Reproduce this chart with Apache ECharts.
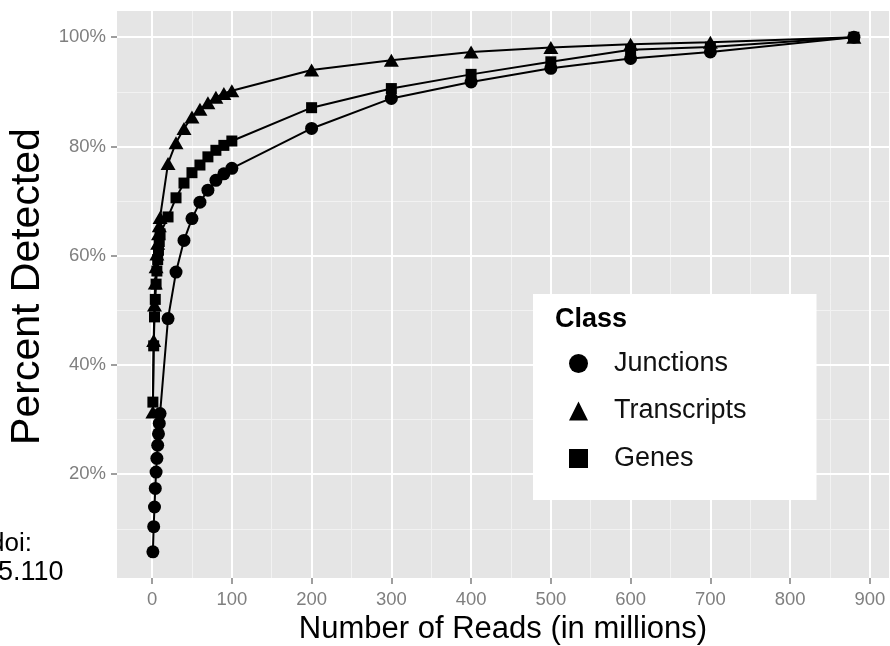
<!DOCTYPE html>
<html><head><meta charset="utf-8">
<script src="https://cdn.jsdelivr.net/npm/echarts@6/dist/echarts.min.js"></script>
<style>html,body{margin:0;padding:0;background:#fff}#c{width:890px;height:646px}</style>
</head><body><div id="c"></div>
<script>
const reads = [1,2,3,4,5,6,7,8,9,10,20,30,40,50,60,70,80,90,100,200,300,400,500,600,700,880];
const junctions = [5.8,10.4,14.0,17.4,20.4,22.9,25.3,27.4,29.3,31.1,48.5,57.0,62.8,66.8,69.8,72.0,73.8,75.0,76.0,83.3,88.8,91.8,94.3,96.1,97.3,100];
const transcripts = [31.4,44.5,51.0,55.0,58.0,60.3,62.3,64.0,65.5,67.0,76.9,80.7,83.3,85.4,86.8,88.0,89.0,89.7,90.2,94.0,95.8,97.3,98.1,98.7,99.1,100];
const genes = [33.2,43.5,48.8,52.0,54.8,57.2,59.3,61.0,62.6,64.0,67.1,70.6,73.3,75.2,76.6,78.1,79.3,80.2,81.0,87.1,90.6,93.2,95.5,97.7,98.2,100];
const xTicks = [0,100,200,300,400,500,600,700,800,900];
const xMinor = [50,150,250,350,450,550,650,750,850];
const yTicks = [20,40,60,80,100];
const yMinor = [10,30,50,70,90];
const classNames = ['Junctions','Transcripts','Genes'];
const classSymbols = ['circle','triangle','rect'];

const FONT = 'Liberation Sans, Arial, Helvetica, sans-serif';
const chart = echarts.init(document.getElementById('c'), null, {renderer:'canvas'});

function pairs(vals){ return reads.map((x,i)=>[x, vals[i]]); }
const seriesVals = [junctions, transcripts, genes];
const symbolSizes = [13, [15,13], 11];

const option = {
  animation:false,
  textStyle:{fontFamily:FONT},
  grid:{show:true, backgroundColor:'#e5e5e5', borderWidth:0, left:117, right:1, top:11, bottom:68, containLabel:false, outerBoundsMode:'none'},
  title:{text:'Class', left:555, top:306, padding:0, textStyle:{fontFamily:FONT, fontSize:27, fontWeight:'bold', color:'#000'}},
  legend:{
    orient:'vertical', left:533, top:294, backgroundColor:'#ffffff',
    padding:[56,70,28,36], itemWidth:19, itemHeight:19, itemGap:20.5,
    selectedMode:false,
    textStyle:{fontFamily:FONT, fontSize:27, color:'#111', padding:[0,0,0,21]},
    data: classNames.map((n,i)=>({name:n, icon:classSymbols[i]}))
  },
  xAxis:[
    {type:'value', min:-44, max:924, z:2,
     name:'Number of Reads (in millions)', nameLocation:'middle', nameGap:33,
     nameTextStyle:{fontFamily:FONT, fontSize:31, color:'#000'},
     axisLine:{show:false, onZero:false},
     axisTick:{show:true, customValues:xTicks, length:6, lineStyle:{color:'#7f7f7f', width:1.5}},
     axisLabel:{customValues:xTicks, color:'#7f7f7f', fontSize:18.5, margin:12, fontFamily:FONT},
     splitLine:{show:true, lineStyle:{color:'#ffffff', width:2}}},
    {type:'value', min:-44, max:924, position:'bottom', z:1,
     axisLine:{show:false, onZero:false},
     axisTick:{show:false, customValues:xMinor},
     axisLabel:{show:false, customValues:xMinor},
     splitLine:{show:true, lineStyle:{color:'#f2f2f2', width:1}}}
  ],
  yAxis:[
    {type:'value', min:1.0, max:104.8, z:2,
     name:'Percent Detected', nameLocation:'middle', nameGap:66,
     nameTextStyle:{fontFamily:FONT, fontSize:41, color:'#000', padding:[0,0,0,16]},
     axisLine:{show:false, onZero:false},
     axisTick:{show:true, customValues:yTicks, length:6, lineStyle:{color:'#7f7f7f', width:1.5}},
     axisLabel:{customValues:yTicks, color:'#7f7f7f', fontSize:18.5, margin:11, fontFamily:FONT, formatter:v=>Math.round(v)+'%'},
     splitLine:{show:true, lineStyle:{color:'#ffffff', width:2}}},
    {type:'value', min:1.0, max:104.8, position:'left', z:1,
     axisLine:{show:false, onZero:false},
     axisTick:{show:false, customValues:yMinor},
     axisLabel:{show:false, customValues:yMinor},
     splitLine:{show:true, lineStyle:{color:'#f2f2f2', width:1}}}
  ],
  series: classNames.map((n,i)=>({
    type:'line', name:n, data:pairs(seriesVals[i]), xAxisIndex:0, yAxisIndex:0,
    symbol:classSymbols[i], symbolSize:symbolSizes[i], showSymbol:true, showAllSymbol:true,
    color:'#000', lineStyle:{color:'#000', width:2}, itemStyle:{color:'#000'},
    emphasis:{disabled:true}, clip:false, z:3
  })),
  graphic:[
    {type:'text', left:-10, top:531, style:{text:'doi:', font:'26px '+FONT, fill:'#000'}},
    {type:'text', left:-2, top:559, style:{text:'5.110', font:'27px '+FONT, fill:'#000'}}
  ]
};
chart.setOption(option);
</script></body></html>
